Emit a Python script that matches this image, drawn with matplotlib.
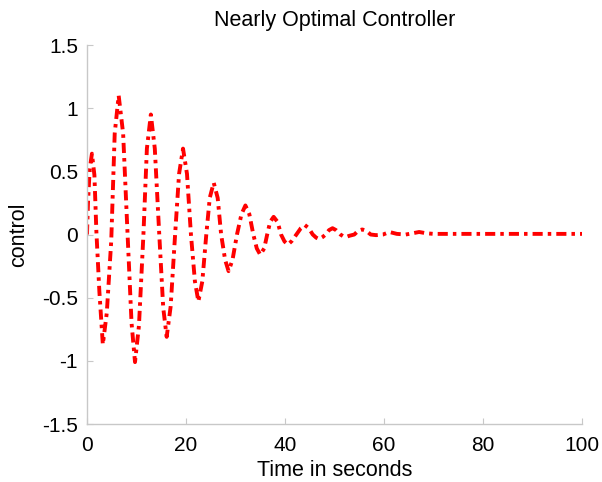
import matplotlib.pyplot as plt

plt.rcParams["font.family"] = ["Liberation Sans", "DejaVu Sans"]

# time samples (s) and control values, one row per half swing
time_s = [
    0, 0.2, 0.55, 1.0, 1.5, 1.9, 2.5, 3.2,
    4.0, 4.9, 5.6, 6.4,
    7.3, 8.2, 9.0, 9.7,
    10.5, 11.4, 12.1, 12.9,
    13.7, 14.6, 15.4, 16.1,
    16.9, 17.8, 18.6, 19.4,
    20.2, 21.0, 21.8, 22.5,
    23.3, 24.1, 24.8, 25.6,
    26.4, 27.1, 27.9, 28.6,
    29.4, 30.3, 31.2, 32.0,
    32.8, 33.6, 34.3, 35.0,
    35.8, 36.4, 37.0, 37.7,
    38.5, 39.2, 39.9, 40.6,
    41.4, 42.3, 43.2, 44.0,
    44.8, 45.6, 46.3, 46.9,
    47.6, 48.2, 48.9, 49.6,
    50.3, 51.2, 51.8, 52.3,
    53.0, 54.0, 54.8, 55.6,
    56.4, 57.3, 58.4, 59.8, 61.1, 62.6, 64.4, 65.8, 67.1, 68.5, 70.0, 100.0,
]
control = [
    0, 0.25, 0.52, 0.64, 0.47, 0.02, -0.45, -0.87,
    -0.62, -0.05, 0.80, 1.10,
    0.80, 0.0, -0.70, -1.01,
    -0.72, 0.0, 0.68, 0.95,
    0.68, 0.0, -0.58, -0.81,
    -0.57, 0.0, 0.48, 0.68,
    0.48, 0.0, -0.37, -0.53,
    -0.37, 0.0, 0.29, 0.41,
    0.29, 0.0, -0.20, -0.29,
    -0.20, 0.0, 0.16, 0.23,
    0.16, 0.0, -0.11, -0.16,
    -0.11, 0.0, 0.10, 0.14,
    0.10, 0.0, -0.055, -0.08,
    -0.05, 0.0, 0.05, 0.075,
    0.05, 0.0, -0.025, -0.036,
    -0.02, 0.0, 0.035, 0.05,
    0.035, 0.0, -0.015, -0.02,
    -0.01, 0.0, 0.03, 0.04,
    0.03, 0.0, -0.005, 0.0, 0.02, 0.005, 0.0, 0.01, 0.02, 0.01, 0.005, 0.005,
]

x_ticks = [0, 20, 40, 60, 80, 100]
y_ticks = [-1.5, -1, -0.5, 0, 0.5, 1, 1.5]
y_tick_labels = ["-1.5", "-1", "-0.5", "0", "0.5", "1", "1.5"]

fig = plt.figure(figsize=(6.02, 4.82), dpi=100)
ax = fig.add_axes([0.1445, 0.1203, 0.8223, 0.7863])

ax.plot(time_s, control, color="#ff0000", linewidth=2.8,
        linestyle=(0, (2.6, 1.3, 0.9, 1.3)))

ax.set_xlim(0, 100)
ax.set_ylim(-1.5, 1.5)
ax.set_xticks(x_ticks)
ax.set_yticks(y_ticks)
ax.set_yticklabels(y_tick_labels)

for side in ["top", "right"]:
    ax.spines[side].set_visible(False)
for side in ["left", "bottom"]:
    ax.spines[side].set_color("#c8c8c8")
    ax.spines[side].set_linewidth(1.0)
ax.tick_params(direction="in", length=4, color="#c8c8c8", labelsize=15)
ax.tick_params(axis="x", pad=8.5)
ax.tick_params(axis="y", pad=6.5)

ax.set_title("Nearly Optimal Controller", fontsize=15.5, pad=14)
ax.set_xlabel("Time in seconds", fontsize=15.5, labelpad=4)
ax.set_ylabel("control", fontsize=15.5, labelpad=9)

fig.savefig("out.png", dpi=100)
